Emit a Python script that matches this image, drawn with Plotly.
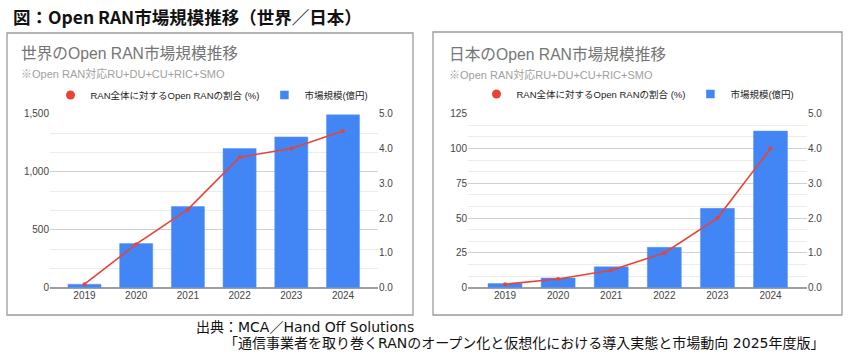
import plotly.graph_objects as go

years = ["2019", "2020", "2021", "2022", "2023", "2024"]
world_market = [30, 380, 700, 1200, 1300, 1490]          # 億円
world_share = [0.1, 1.25, 2.25, 3.75, 4.0, 4.5]          # %
japan_market = [3, 7, 15, 29, 57, 112.5]                 # 億円
japan_share = [0.1, 0.25, 0.5, 1.0, 2.0, 4.0]            # %

main_title = "図：Open RAN市場規模推移（世界／日本）"
world_title = "世界のOpen RAN市場規模推移"
japan_title = "日本のOpen RAN市場規模推移"
subtitle = "※Open RAN対応RU+DU+CU+RIC+SMO"
line_name = "RAN全体に対するOpen RANの割合 (%)"
bar_name = "市場規模(億円)"
source1 = "出典：MCA／Hand Off Solutions"
source2 = "「通信事業者を取り巻くRANのオープン化と仮想化における導入実態と市場動向 2025年度版」"

W, H = 850, 361
def px(x):
    return x / W
def py(y):
    return 1 - y / H

BLUE = "#4285F4"
RED = "#EA4335"
FONT = "'Liberation Sans', Arial, 'Noto Sans CJK JP', sans-serif"
JFONT = "'Noto Sans CJK JP', sans-serif"
SFONT = "'DejaVu Sans', 'Noto Sans CJK JP', sans-serif"

fig = go.Figure()

panels = [
    dict(x="x", y="y", y2="y2", market=world_market, share=world_share, legend="legend"),
    dict(x="x2", y="y3", y2="y4", market=japan_market, share=japan_share, legend="legend2"),
]

for p in panels:
    fig.add_trace(go.Bar(x=years, y=p["market"], xaxis=p["x"], yaxis=p["y"],
                         marker=dict(color=BLUE, line=dict(color="#5a95f5", width=0.5)),
                         name=bar_name, legend=p["legend"], showlegend=False))
    fig.add_trace(go.Scatter(x=years, y=p["share"], xaxis=p["x"], yaxis=p["y2"],
                             mode="lines+markers", line=dict(color=RED, width=1.6),
                             marker=dict(color=RED, size=4), name=line_name,
                             legend=p["legend"], showlegend=False))
    # legend proxies (circle marker for the line series, square for bars)
    fig.add_trace(go.Scatter(x=[None], y=[None], xaxis=p["x"], yaxis=p["y2"], mode="markers",
                             marker=dict(color=RED, size=9, symbol="circle"),
                             name=line_name, legend=p["legend"], showlegend=True))
    fig.add_trace(go.Scatter(x=[None], y=[None], xaxis=p["x"], yaxis=p["y"], mode="markers",
                             marker=dict(color=BLUE, size=8.5, symbol="square"),
                             name=bar_name, legend=p["legend"], showlegend=True))

ydom = [py(287.7), py(113.7)]
tickfont = dict(family=FONT, size=10, color="#444")

common_x = dict(type="category", showgrid=False, showline=False, ticks="",
                tickfont=tickfont, fixedrange=True, automargin=False)
common_y_left = dict(showline=False, ticks="", tickfont=tickfont, automargin=False,
                     gridcolor="#d0d0d0", gridwidth=1,
                     zeroline=True, zerolinecolor="#9e9e9e", zerolinewidth=1.5)
common_y_right = dict(showgrid=False, showline=False, ticks="", tickfont=tickfont,
                      automargin=False,
                      zeroline=False, side="right", range=[0, 5], tickvals=[0, 1, 2, 3, 4, 5],
                      tickformat=".1f")

fig.update_layout(
    width=W, height=H,
    margin=dict(l=0, r=0, t=0, b=0, autoexpand=False),
    paper_bgcolor="white", plot_bgcolor="white",
    bargap=0.36,
    showlegend=True,
    xaxis=dict(common_x, domain=[px(50), px(378)], range=[-0.667, 5.677], anchor="y"),
    yaxis=dict(common_y_left, domain=ydom, range=[0, 1500], tickvals=[0, 500, 1000, 1500],
               tickformat=",", anchor="x",
               minor=dict(dtick=500 / 3, tick0=0, showgrid=True, gridcolor="#ececec", gridwidth=1)),
    yaxis2=dict(common_y_right, overlaying="y", anchor="x"),
    xaxis2=dict(common_x, domain=[px(468), px(807)], range=[-0.697, 5.687], anchor="y3"),
    yaxis3=dict(common_y_left, domain=ydom, range=[0, 125], tickvals=[0, 25, 50, 75, 100, 125],
                anchor="x2",
                minor=dict(dtick=25 / 3, tick0=0, showgrid=True, gridcolor="#ececec", gridwidth=1)),
    yaxis4=dict(common_y_right, overlaying="y3", anchor="x2"),
    legend=dict(orientation="h", x=px(212), xanchor="center", y=py(95), yanchor="middle",
                font=dict(family=FONT, size=9.5, color="#222"), bgcolor="rgba(0,0,0,0)",
                itemwidth=30, tracegroupgap=0),
    legend2=dict(orientation="h", x=px(638), xanchor="center", y=py(94), yanchor="middle",
                 font=dict(family=FONT, size=9.5, color="#222"), bgcolor="rgba(0,0,0,0)",
                 itemwidth=30, tracegroupgap=0),
)

# panel borders
for (x0, y0, x1, y1) in [(7, 33, 413, 315), (433, 32, 842, 315)]:
    fig.add_shape(type="rect", xref="paper", yref="paper",
                  x0=px(x0), x1=px(x1), y0=py(y1), y1=py(y0),
                  line=dict(color="#9a9a9a", width=1.3), fillcolor="rgba(0,0,0,0)", layer="below")

def ann(text, x, y, size, color, family=FONT, bold=False, xanchor="left"):
    fig.add_annotation(text=f"<b>{text}</b>" if bold else text, xref="paper", yref="paper",
                       x=px(x), y=py(y), xanchor=xanchor, yanchor="middle", showarrow=False,
                       font=dict(family=family, size=size, color=color))

ann(main_title, 11, 17, 17.5, "#111", family=JFONT, bold=True)
ann(world_title, 19, 53, 15.7, "#757575")
ann(subtitle, 19, 74, 11, "#a0a0a0")
ann(japan_title, 447, 55, 15.7, "#757575")
ann(subtitle, 447, 75, 11, "#a0a0a0")
ann(source1, 194, 327, 14, "#111", family=SFONT)
ann(source2, 222, 343, 14, "#111", family=SFONT)

fig.write_html("out.html", config={"displayModeBar": False})

# remove the default page margin so the figure sits at the window's top-left corner
with open("out.html", encoding="utf-8") as f:
    html = f.read()
html = html.replace("<head>", "<head><style>html,body{margin:0;padding:0;overflow:hidden;}</style>", 1)
with open("out.html", "w", encoding="utf-8") as f:
    f.write(html)
